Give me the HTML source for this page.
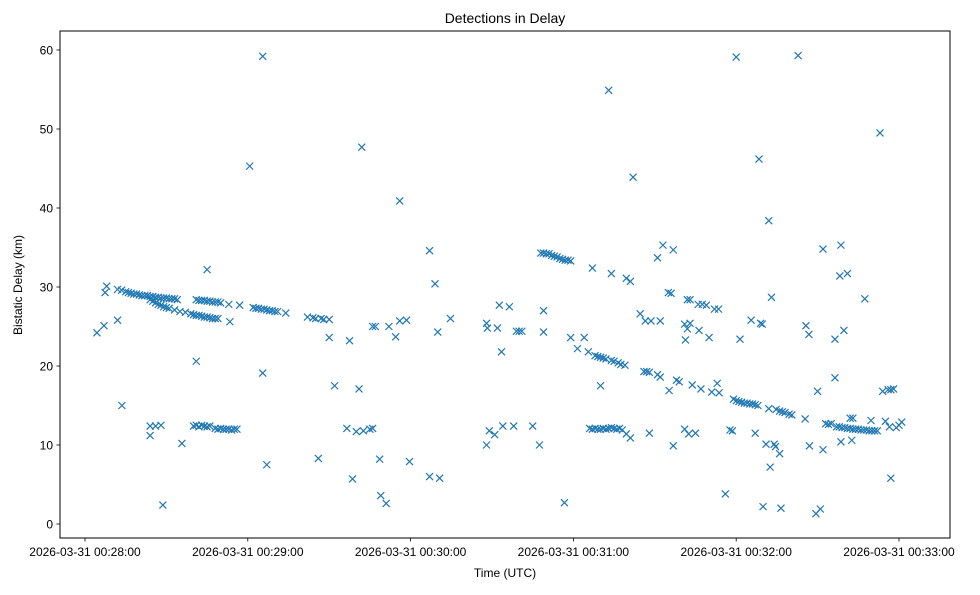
<!DOCTYPE html>
<html><head><meta charset="utf-8"><style>
body{margin:0;background:#fff;font-family:"Liberation Sans",sans-serif;}
svg text{font-family:"Liberation Sans",sans-serif;fill:#000;}
</style></head><body>
<svg id="chart" width="980" height="590" xmlns="http://www.w3.org/2000/svg">
<rect width="980" height="590" fill="#fff"/>
<text x="505" y="23" font-size="14" text-anchor="middle">Detections in Delay</text>
<g id="marks"></g>
<g id="axes"></g>
<rect x="60" y="31" width="890" height="507" fill="none" stroke="#000" stroke-width="1"/>
<text x="505" y="577" font-size="12" text-anchor="middle">Time (UTC)</text>
<text x="22" y="285" font-size="12" text-anchor="middle" transform="rotate(-90 22 285)">Bistatic Delay (km)</text>
</svg>
<script>
// seconds after 2026-03-31 00:28:00
const times = [4.4,7,7.4,8,12,13.6,
12,13.5,15,16,17,18,19,20,21,22,23,24,25,26,27,28,29,30,31,32,33,34,
24,25,26,27,28,29,30,31,33,35,37,39,40,41,42,43,44,45,46,47,48,49,
41,42,43,44,45,46,47,48,49,50,
53,57,53.4,45,41,
40,41,42,43,44,45,46,48,49,50,51,52,53,54,55,56,
24,24,26,28,28.7,35.7,60.7,65.5,65.5,67,
62,63,64,65,66,67,68,69,70,71,74,
82,84,85,87,88,90,90,92,86,
97.5,96.5,98.6,100,101,102,102.6,105,106,106,107,108.6,109,111,112,114.5,116,116,118.5,119.6,127,127,129,130,130.7,134.7,
148,148.3,148,149,151,152,152.7,153.5,154,156.4,158,159,160,161,165,167.5,169,169,
168,169,170,171,172,173,174,175,176,177,178,179,
176.7,179,181.5,184,185.5,187,188,189,190,191,192,194,195,190,194,193,196.5,197.5,199,
186,187,188,189,190,191,192,193,194,195,196,197,198,199.5,201,
199.5,201,202,204.6,206,207,208,206.5,208,208.6,211,212,211,213,215,216,212,215.3,216.8,216.8,218,219,
221,221.3,222,223,222,223,221,222.5,225,223.8,226,227.5,229,226.3,227,230,231,232,233.5,233,233.7,236,237.7,238.6,
239,240,241,242,243,244,245,246,247,248,
240,241.4,245.5,247,248.4,249,249.9,249.6,251,252,252,252.5,253,254,254.5,
254.7,256,257,258,259.5,260.5,
256,256.5,262.8,265.4,265.7,266.8,267,269.4,271,270,272,272,273,274,275,276.4,276.4,278.6,278.2,279.7,281,278.6,282,283,282.6,
277,278,279,280,281,282,283,284,285,286,287,288,289,290,291,292,
287.4,289.7,293,294,295,296,297,298,297,296.5,299,300,301];
const delays = [24.2,25.1,29.3,30.1,25.8,15,
29.7,29.6,29.4,29.3,29.2,29.1,29.1,29.0,28.9,28.9,28.9,28.8,28.8,28.7,28.7,28.6,28.6,28.6,28.5,28.5,28.5,28.4,
28.4,28.2,28.0,27.8,27.7,27.5,27.4,27.3,27.1,26.9,26.8,26.6,26.5,26.4,26.4,26.3,26.2,26.2,26.1,26.0,26.0,26.0,
28.4,28.3,28.3,28.3,28.2,28.2,28.1,28.1,28.1,28.0,
27.8,27.7,25.6,32.2,20.6,
12.4,12.5,12.3,12.5,12.4,12.3,12.4,12.1,12.0,12.1,12.0,12.0,12.0,11.9,12.0,12.0,
12.4,11.2,12.4,12.5,2.4,10.2,45.3,59.2,19.1,7.5,
27.4,27.3,27.3,27.2,27.2,27.1,27.0,27.0,26.9,26.9,26.7,
26.2,26.1,26.0,26.0,25.9,25.9,23.6,17.5,8.3,
23.2,12.1,5.7,11.7,17.1,47.7,11.8,12.0,12.1,25.0,25.0,8.2,3.6,2.6,25.0,23.7,40.9,25.7,25.8,7.9,34.6,6.0,30.4,24.3,5.8,26.0,
25.4,24.8,10,11.8,11.3,24.8,27.7,21.8,12.4,27.5,12.4,24.4,24.4,24.4,12.4,10.0,27.0,24.3,
34.3,34.3,34.2,34.2,34.0,33.9,33.8,33.6,33.5,33.4,33.4,33.3,
2.7,23.6,22.2,23.6,21.8,32.4,21.3,21.2,21.1,21.0,20.9,20.7,20.6,17.5,31.7,54.9,20.4,20.2,20.1,
12.1,12.0,12.1,12.0,12.0,12.1,12.0,12.1,12.2,12.1,12.0,12.1,11.9,11.4,10.9,
31.1,30.7,43.9,26.6,19.3,19.3,19.2,25.7,11.5,25.7,18.9,18.6,33.7,35.3,29.3,29.2,25.7,16.9,34.7,9.9,18.2,18.0,
25.3,23.3,28.4,28.4,24.7,25.4,12.0,11.4,11.5,17.6,27.8,27.8,27.7,24.5,17.1,23.6,16.7,27.2,27.2,17.8,16.6,3.8,11.9,11.8,
15.8,15.6,15.5,15.4,15.3,15.3,15.2,15.2,15.1,15.0,
59.1,23.4,25.8,11.5,46.2,25.4,2.2,25.3,10.1,38.4,14.6,7.2,28.7,10.1,9.8,
14.5,14.3,14.2,14.1,13.9,13.8,
8.9,2.0,59.3,13.3,25.1,24.0,9.9,1.3,1.9,16.8,34.8,9.4,12.7,12.6,12.7,18.5,23.4,35.3,31.4,24.5,31.7,10.4,13.4,13.4,10.6,
12.3,12.3,12.2,12.2,12.1,12.1,12.0,12.0,12.0,11.9,11.9,11.9,11.8,11.8,11.8,11.8,
28.5,13.1,49.5,16.8,13.0,17.0,17.0,17.1,5.8,12.3,12.2,12.5,12.9];
const xTickSeconds = [0,60,120,180,240,300];
const xTickLabels = ["2026-03-31 00:28:00","2026-03-31 00:29:00","2026-03-31 00:30:00","2026-03-31 00:31:00","2026-03-31 00:32:00","2026-03-31 00:33:00"];
const yTicks = [0,10,20,30,40,50,60];

const NS="http://www.w3.org/2000/svg";
const xScale = s => 85 + s*2.7133;
const yScale = v => 524 - v*7.9;
const marks=document.getElementById('marks');
const axes=document.getElementById('axes');
function mk(tag,attrs,parent){const e=document.createElementNS(NS,tag);for(const k in attrs)e.setAttribute(k,attrs[k]);parent.appendChild(e);return e;}
for(let i=0;i<times.length;i++){
  const cx=xScale(times[i]), cy=yScale(delays[i]), r=3.5;
  const p=mk('path',{d:`M${cx-r},${cy-r}L${cx+r},${cy+r}M${cx-r},${cy+r}L${cx+r},${cy-r}`,stroke:'#1f77b4','stroke-width':1.2,fill:'none'},marks);
  
  
}
xTickSeconds.forEach((s,i)=>{
  const x=xScale(s);
  const t=mk('line',{x1:x,x2:x,y1:538,y2:541.5,stroke:'#000','stroke-width':0.8},axes);
  
  
  const l=mk('text',{x:x,y:556,'font-size':12,'text-anchor':'middle'},axes);
  l.textContent=xTickLabels[i];
  
  
});
yTicks.forEach(v=>{
  const y=yScale(v);
  const t=mk('line',{x1:56.5,x2:60,y1:y,y2:y,stroke:'#000','stroke-width':0.8},axes);
  
  
  const l=mk('text',{x:53,y:y+4.5,'font-size':12,'text-anchor':'end'},axes);
  l.textContent=v;
  
  
});
</script>
</body></html>
